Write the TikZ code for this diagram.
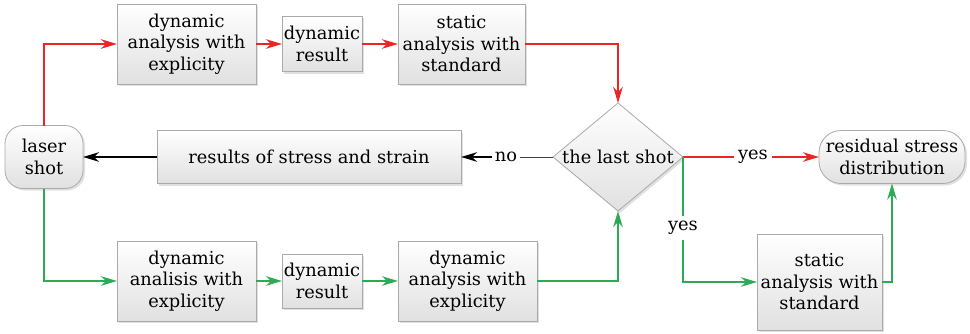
\documentclass[tikz,border=0pt]{standalone}
\usepackage{fontspec}
\setmainfont{DejaVu Serif}
\usetikzlibrary{shapes.geometric,arrows.meta,shadows}
\definecolor{lred}{RGB}{236,36,36}
\definecolor{lgreen}{RGB}{44,170,86}
\definecolor{bord}{RGB}{170,170,170}
\begin{document}
\begin{tikzpicture}[x=1pt,y=1pt,
  txt/.style={font=\fontsize{17.8}{21.5}\selectfont, align=center},
  box/.style={txt, draw=bord, line width=0.8pt, top color=white, bottom color=black!12,
    drop shadow={shadow xshift=2pt,shadow yshift=-2pt,fill=black!35,opacity=0.35},
    inner sep=0pt, outer sep=0pt},
  rbox/.style={box, rounded corners=#1},
  lab/.style={txt, inner sep=3pt},
  tip/.style={-{Stealth[length=16pt,width=9.5pt,inset=5pt]}},
  redl/.style={draw=lred, line width=2pt},
  greenl/.style={draw=lgreen, line width=2pt},
  reda/.style={redl, tip},
  greena/.style={greenl, tip},
  blacka/.style={draw=black, line width=2pt, tip}
]
\useasboundingbox (0,0) rectangle (970,333);
% nodes
\node[rbox=18pt, minimum width=78pt, minimum height=63pt] (laser) at (44,176) {laser\\shot};
\node[box, minimum width=139pt, minimum height=80pt] (b1) at (186.5,289) {dynamic\\analysis with\\explicity};
\node[box, minimum width=80pt, minimum height=55pt] (r1) at (322,289) {dynamic\\result};
\node[box, minimum width=127pt, minimum height=80pt] (s1) at (461.5,289) {static\\analysis with\\standard};
\node[box, diamond, minimum width=130pt, minimum height=108pt] (d) at (618,176) {};
\node[txt] (dt) at (d.center) {the last shot};
\node[box, minimum width=304pt, minimum height=53pt] (rs) at (309,176) {results of stress and strain};
\node[rbox=22pt, minimum width=146pt, minimum height=53pt] (res) at (892,176) {residual stress\\distribution};
\node[box, minimum width=139pt, minimum height=80pt] (b2) at (186.5,52) {dynamic\\analisis with\\explicity};
\node[box, minimum width=80pt, minimum height=54pt] (r2) at (322,52) {dynamic\\result};
\node[box, minimum width=139pt, minimum height=80pt] (s2) at (467.5,52) {dynamic\\analysis with\\explicity};
\node[box, minimum width=125pt, minimum height=96pt] (st) at (819.5,51) {static\\analysis with\\standard};
% labels
\node[lab] (no) at (506,176) {no};
\node[lab, inner sep=4pt] (y1) at (753,176) {yes};
\node[lab, inner sep=5pt] (y2) at (683,105) {yes};
% red path
\draw[reda] (laser.north) |- (b1.west);
\draw[reda] (b1.east) -- (r1.west);
\draw[reda] (r1.east) -- (s1.west);
\draw[reda] (s1.east) -| (d.north);
% green path
\draw[greena] (laser.south) |- (b2.west);
\draw[greena] (b2.east) -- (r2.west);
\draw[greena] (r2.east) -- (s2.west);
\draw[greena] (s2.east) -| (d.south);
% no branch
\draw[black!75, line width=0.8pt] (d.west) -- (no.east);
\draw[blacka] (no.west) -- (rs.east);
\draw[blacka] (rs.west) -- (laser.east);
% yes branches
\draw[redl] (d.east) -- (y1.west);
\draw[reda] (y1.east) -- (res.west);
\draw[greenl] (d.east) -- (d.east |- y2.north);
\draw[greena] (d.east |- y2.south) |- (st.west);
\draw[greena] (st.east) -| (res.south);
\end{tikzpicture}
\end{document}
